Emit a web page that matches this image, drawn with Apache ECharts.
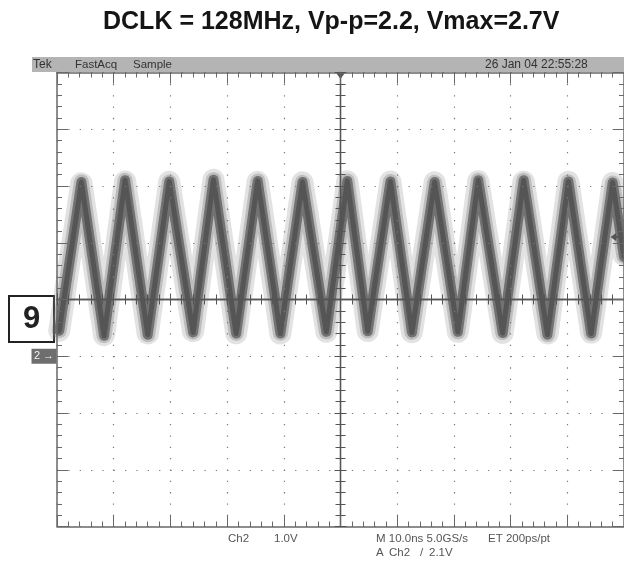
<!DOCTYPE html>
<html>
<head>
<meta charset="utf-8">
<script src="https://cdn.jsdelivr.net/npm/echarts@6/dist/echarts.min.js"></script>
<style>
html, body { margin: 0; padding: 0; background: #fff; }
#main { width: 624px; height: 569px; }
</style>
</head>
<body>
<div id="main"></div>
<script>
// trace vertices: time in ns from trigger, level in volts (Ch2, 1.0V/div)
var peakTimes = [-45.7, -38.0, -30.2, -22.4, -14.6, -6.7, 1.2, 8.8, 16.6, 24.3, 32.3, 40.2, 48.0];
var peakVolts = [3.07, 3.10, 3.08, 3.11, 3.09, 3.07, 3.09, 3.08, 3.07, 3.10, 3.10, 3.08, 3.06];
var troughTimes = [-49.6, -41.7, -34.0, -26.0, -18.4, -10.6, -2.5, 4.8, 12.6, 20.7, 28.6, 36.5, 44.2];
var troughVolts = [0.45, 0.36, 0.38, 0.42, 0.40, 0.40, 0.43, 0.44, 0.42, 0.43, 0.41, 0.38, 0.40];
var edgeTimes = [50];
var edgeVolts = [1.75];

// screen settings
var timeRange = [-50, 50];     // 10ns/div, 10 div
var voltRange = [-3, 5];       // 1V/div, 8 div, ground 3 div below centre
var ch2Ground = 0;
var triggerTime = 0;
var triggerLevel = 2.1;

var titleText = 'DCLK = 128MHz, Vp-p=2.2, Vmax=2.7V';
var headerLabels = ['Tek', 'FastAcq', 'Sample'];
var dateLabel = '26 Jan 04 22:55:28';
var footerLine1 = ['Ch2', '1.0V', 'M 10.0ns 5.0GS/s', 'ET 200ps/pt'];
var footerLine2 = ['A', 'Ch2', '/', '2.1V'];
var figureLabel = '9';

var trace = [];
peakTimes.forEach(function (t, i) { trace.push([t, peakVolts[i]]); });
troughTimes.forEach(function (t, i) { trace.push([t, troughVolts[i]]); });
edgeTimes.forEach(function (t, i) { trace.push([t, edgeVolts[i]]); });
trace.sort(function (a, b) { return a[0] - b[0]; });

var frame = '#686868';
var scopeFont = 'Liberation Sans';

function borderAxis(pos, extra) {
    var ax = {
        type: 'value',
        position: pos,
        axisLine: { show: true, onZero: false, lineStyle: { color: frame, width: 1.5 } },
        axisTick: { show: true, inside: true, length: 11, lineStyle: { color: frame, width: 1 } },
        minorTick: { show: true, splitNumber: 5, length: 5, lineStyle: { color: frame, width: 1 } },
        axisLabel: { show: false },
        splitLine: { show: false },
        z: 6
    };
    return Object.assign(ax, extra);
}

function centreAxis(pos, inside, onZeroIdx, extra) {
    var ax = {
        type: 'value',
        position: pos,
        axisLine: { show: true, onZero: true, onZeroAxisIndex: onZeroIdx, lineStyle: { color: '#555', width: 1.3 } },
        axisTick: { show: true, inside: inside, length: 6, lineStyle: { color: '#555', width: 1 } },
        minorTick: { show: true, splitNumber: 5, length: 5, lineStyle: { color: '#555', width: 1 } },
        axisLabel: { show: false },
        splitLine: { show: false },
        z: 6
    };
    return Object.assign(ax, extra);
}

var dots = { show: true, lineStyle: { color: '#7a7a7a', width: 1.2, type: [1.3, 10.04] } };

var graphics = [
    { type: 'rect', shape: { x: 32, y: 57, width: 592, height: 15 }, style: { fill: '#b4b4b4' }, z: 1 },
    { type: 'text', x: 33, y: 65, style: { text: headerLabels[0], font: '12px ' + scopeFont, fill: '#333', verticalAlign: 'middle' }, z: 2 },
    { type: 'text', x: 75, y: 65, style: { text: headerLabels[1], font: '11.5px ' + scopeFont, fill: '#333', verticalAlign: 'middle' }, z: 2 },
    { type: 'text', x: 133, y: 65, style: { text: headerLabels[2], font: '11.5px ' + scopeFont, fill: '#333', verticalAlign: 'middle' }, z: 2 },
    { type: 'text', x: 485, y: 65, style: { text: dateLabel, font: '12px ' + scopeFont, fill: '#333', verticalAlign: 'middle' }, z: 2 },
    { type: 'rect', shape: { x: 9, y: 296, width: 45, height: 46 }, style: { fill: '#fff', stroke: '#222', lineWidth: 2 }, z: 2 },
    { type: 'text', x: 31.5, y: 319, style: { text: figureLabel, font: 'bold 31px Liberation Sans', fill: '#222', align: 'center', verticalAlign: 'middle' }, z: 3 }
];
var f1x = [228, 274, 376, 488];
footerLine1.forEach(function (s, i) {
    graphics.push({ type: 'text', x: f1x[i], y: 539, style: { text: s, font: '11.5px ' + scopeFont, fill: '#555', verticalAlign: 'middle' } });
});
var f2x = [376, 389, 420, 429];
footerLine2.forEach(function (s, i) {
    graphics.push({ type: 'text', x: f2x[i], y: 553, style: { text: s, font: '11.5px ' + scopeFont, fill: '#555', verticalAlign: 'middle' } });
});

var myChart = echarts.init(document.getElementById('main'));
var option = {
    animation: false,
    backgroundColor: '#fff',
    title: {
        text: titleText,
        left: 98,
        top: 5,
        textStyle: { fontFamily: 'Liberation Sans', fontWeight: 'bold', fontSize: 25, color: '#151515' }
    },
    grid: { left: 57, top: 72.5, width: 567, height: 454 },
    xAxis: [
        borderAxis('bottom', { min: timeRange[0], max: timeRange[1], interval: 10, splitLine: dots }),
        borderAxis('top', { min: timeRange[0], max: timeRange[1], interval: 10 }),
        centreAxis('bottom', false, 2, { min: timeRange[0], max: timeRange[1], interval: 10 }),
        centreAxis('bottom', true, 2, { min: timeRange[0], max: timeRange[1], interval: 10 })
    ],
    yAxis: [
        borderAxis('left', { min: voltRange[0], max: voltRange[1], interval: 1, splitLine: dots }),
        borderAxis('right', { min: voltRange[0], max: voltRange[1], interval: 1 }),
        centreAxis('left', false, 0, { min: -4, max: 4, interval: 1 }),
        centreAxis('left', true, 0, { min: -4, max: 4, interval: 1 })
    ],
    graphic: graphics,
    series: [
        {
            // outer jitter scatter
            type: 'line', data: trace, symbol: 'none', silent: true, z: 2,
            lineStyle: { width: 22, color: 'rgba(150,150,150,0.28)', type: [1, 3], join: 'round', cap: 'round' }
        },
        {
            type: 'line', data: trace, symbol: 'none', silent: true, z: 3,
            lineStyle: { width: 15, color: 'rgba(120,120,120,0.35)', type: [2, 1], join: 'round', cap: 'round' }
        },
        {
            type: 'line', data: trace, symbol: 'none', silent: true, z: 4,
            lineStyle: { width: 10, color: 'rgba(95,95,95,0.8)', join: 'round', cap: 'round' }
        },
        {
            type: 'line', data: trace, symbol: 'none', silent: true, z: 4,
            lineStyle: { width: 5, color: '#555', join: 'round', cap: 'round' }
        },
        {
            // scope indicators: trigger position, ground level, trigger level
            type: 'line', data: [], clip: false, silent: true, z: 7,
            markPoint: {
                silent: true,
                data: [
                    { coord: [triggerTime, voltRange[1]], symbol: 'triangle', symbolRotate: 180, symbolSize: [10, 7], symbolOffset: [0, 3], itemStyle: { color: '#555' }, label: { show: false } },
                    { coord: [timeRange[0], ch2Ground], symbol: 'rect', symbolSize: [25, 15], symbolOffset: [-13, 0], itemStyle: { color: '#6e6e6e' },
                      label: { show: true, position: 'inside', formatter: '2 \u2192', color: '#f2f2f2', fontSize: 11, fontFamily: scopeFont } },
                    { coord: [timeRange[1], triggerLevel], symbol: 'path://M0,5L6,0L6,4L14,4L14,6L6,6L6,10Z', symbolSize: [13, 8], symbolOffset: [-7, 0], itemStyle: { color: '#555' }, label: { show: false } }
                ]
            }
        }
    ]
};
myChart.setOption(option);
window.addEventListener('resize', function () {
    myChart.resize();
});
</script>
</body>
</html>
